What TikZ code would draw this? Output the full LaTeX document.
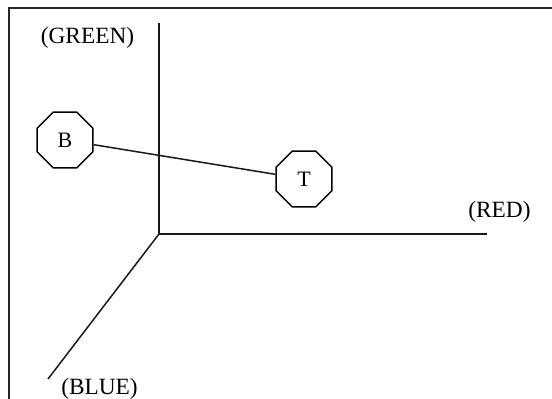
\documentclass[tikz,border=0pt]{standalone}
\usepackage{fontspec}
\setmainfont{Liberation Serif}
\usetikzlibrary{shapes.geometric}
\begin{document}
\begin{tikzpicture}[x=1pt,y=-1pt,
  axis/.style={line width=1.5pt,color=black!90},
  frameline/.style={line width=1.9pt,color=black!85},
  octa/.style={regular polygon,regular polygon sides=8,minimum size=60.6pt,
    inner sep=0pt,draw,line width=1.5pt,font=\fontsize{22}{26}\selectfont},
  axislabel/.style={anchor=base,inner sep=0pt,font=\fontsize{23.3}{28}\selectfont}]
  \useasboundingbox (0,0) rectangle (552,399);
  % open frame: top and left edges only
  \draw[frameline] (552,8) -- (9,8) -- (9,399);
  % axes
  \coordinate (O) at (159,234);
  \coordinate (G) at (159,23);
  \coordinate (R) at (487,234);
  \coordinate (Bl) at (48,379);
  \draw[axis] (G) -- (O) -- (R);
  \draw[axis] (O) -- (Bl);
  % axis labels
  \node[axislabel] (lg) at (87.5,43) {(GREEN)};
  \node[axislabel] (lr) at (499.5,217) {(RED)};
  \node[axislabel] (lb) at (99.5,394) {(BLUE)};
  % points
  \node[octa] (B) at (65,140) {B};
  \node[octa] (T) at (304,179) {T};
  \draw[axis] (B) -- (T);
\end{tikzpicture}
\end{document}
